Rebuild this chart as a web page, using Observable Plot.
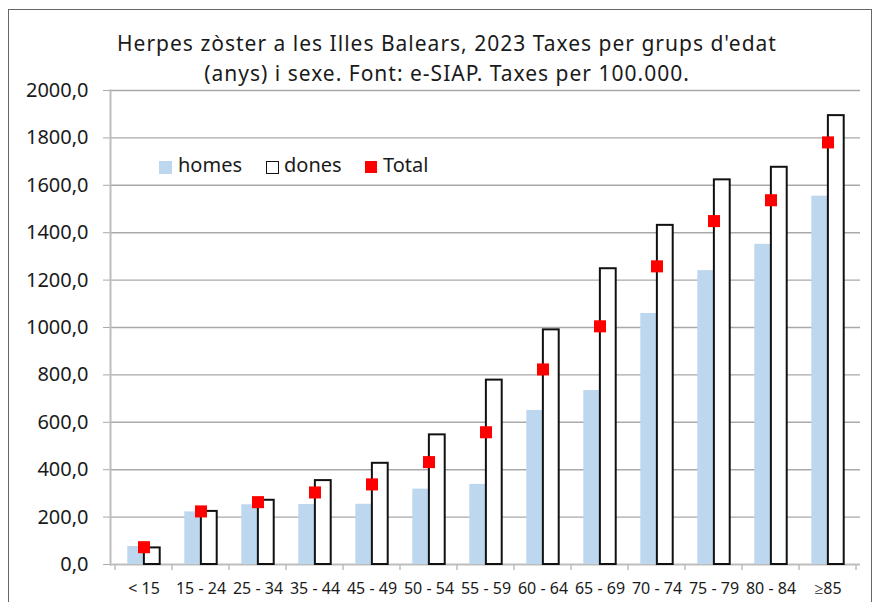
<!DOCTYPE html>
<html>
<head>
<meta charset="utf-8">
<script src="https://cdn.jsdelivr.net/npm/d3@7"></script>
<script src="https://cdn.jsdelivr.net/npm/@observablehq/plot@0.6"></script>
<style>
  html, body { margin: 0; padding: 0; background: #fff; }
  #wrap { position: relative; width: 874px; height: 602px; overflow: hidden; font-family: "Noto Sans", sans-serif; color: #1a1a1a; }
  #border { position: absolute; left: 8px; top: 9px; width: 864px; height: 700px; box-sizing: border-box; border: 1.5px solid #666; }
  #title { position: absolute; left: 47px; width: 800px; top: 28px; text-align: center; font-size: 21px; letter-spacing: 1px; line-height: 30px; }
  #chart { position: absolute; left: 0; top: 0; }
  .lg { position: absolute; font-size: 20px; line-height: 20px; }
  .sw { position: absolute; box-sizing: border-box; }
</style>
</head>
<body>
<div id="wrap">
  <div id="border"></div>
  <div id="chart"></div>
  <div id="title">Herpes zòster a les Illes Balears, 2023 Taxes per grups d'edat<br>(anys) i sexe. Font: e-SIAP. Taxes per 100.000.</div>
  <div class="sw" style="left:159px;top:161px;width:13px;height:13px;background:#BDD7EE"></div>
  <div class="lg" style="left:178px;top:155px">homes</div>
  <div class="sw" style="left:266px;top:161px;width:13px;height:13px;background:#fff;border:1.5px solid #111"></div>
  <div class="lg" style="left:284px;top:155px">dones</div>
  <div class="sw" style="left:365px;top:161px;width:12px;height:12px;background:#ff0000"></div>
  <div class="lg" style="left:383px;top:155px">Total</div>
</div>
<script>
const categories = ["< 15","15 - 24","25 - 34","35 - 44","45 - 49","50 - 54","55 - 59","60 - 64","65 - 69","70 - 74","75 - 79","80 - 84","≥85"];
const homes = [76, 222, 252, 253, 254, 318, 338, 650, 734, 1059, 1240, 1351, 1554];
const dones = [70, 224, 271, 354, 427, 547, 778, 990, 1248, 1431, 1623, 1676, 1894];
const total = [73, 224, 263, 304, 338, 432, 558, 823, 1005, 1258, 1449, 1537, 1781];
const yTicks = [0, 200, 400, 600, 800, 1000, 1200, 1400, 1600, 1800, 2000];

const data = categories.map((c, i) => ({cat: c, homes: homes[i], dones: dones[i], total: total[i]}));

const W = 874, H = 602, ML = 110, MR = 14, MT = 90, MB = 38;
const step = (W - ML - MR) / categories.length;
const gap = step * 0.213, barW = step * 0.2875;

const chart = Plot.plot({
  width: W, height: H,
  marginTop: MT, marginBottom: MB, marginLeft: ML, marginRight: MR,
  style: {fontFamily: "Noto Sans", background: "transparent", color: "#1a1a1a", overflow: "visible"},
  x: {domain: categories, padding: 0, label: null},
  y: {domain: [0, 2000], label: null},
  marks: [
    Plot.ruleY(yTicks.filter(d => d > 0), {stroke: "#a9a9a9", strokeWidth: 1.4}),
    Plot.axisY({ticks: yTicks, tickSize: 7, tickPadding: 15, fontSize: 20, stroke: "#a9a9a9", fill: "#1a1a1a",
      tickFormat: d => d.toFixed(1).replace(".", ",")}),
    Plot.axisX({tickSize: 0, tickPadding: 18, fontSize: 16, fill: "#1a1a1a"}),
    Plot.frame({anchor: "left", stroke: "#bdbdbd", strokeWidth: 2}),
    Plot.ruleY([0], {stroke: "#bdbdbd", strokeWidth: 2}),
    Plot.barY(data, {x: "cat", y: "homes", fill: "#BDD7EE", insetLeft: gap, insetRight: step - gap - barW}),
    Plot.barY(data, {x: "cat", y: "dones", fill: "#fff", stroke: "#111", strokeWidth: 2, insetLeft: gap + barW, insetRight: gap}),
    Plot.dot(data, {x: "cat", y: "total", symbol: "square", fill: "#ff0000", stroke: "none", r: 6.8})
  ]
});
document.getElementById("chart").appendChild(chart);

// category boundary tick marks on the x axis
const xs = chart.scale("x");
const ys = chart.scale("y");
const bounds = categories.map(c => xs.apply(c)).concat([xs.apply(categories[categories.length - 1]) + xs.step]);
const y0 = ys.apply(0);
d3.select(chart).append("g")
  .selectAll("line").data(bounds).join("line")
  .attr("x1", d => d).attr("x2", d => d)
  .attr("y1", y0).attr("y2", y0 + 6)
  .attr("stroke", "#bdbdbd").attr("stroke-width", 1.5);
</script>
</body>
</html>
